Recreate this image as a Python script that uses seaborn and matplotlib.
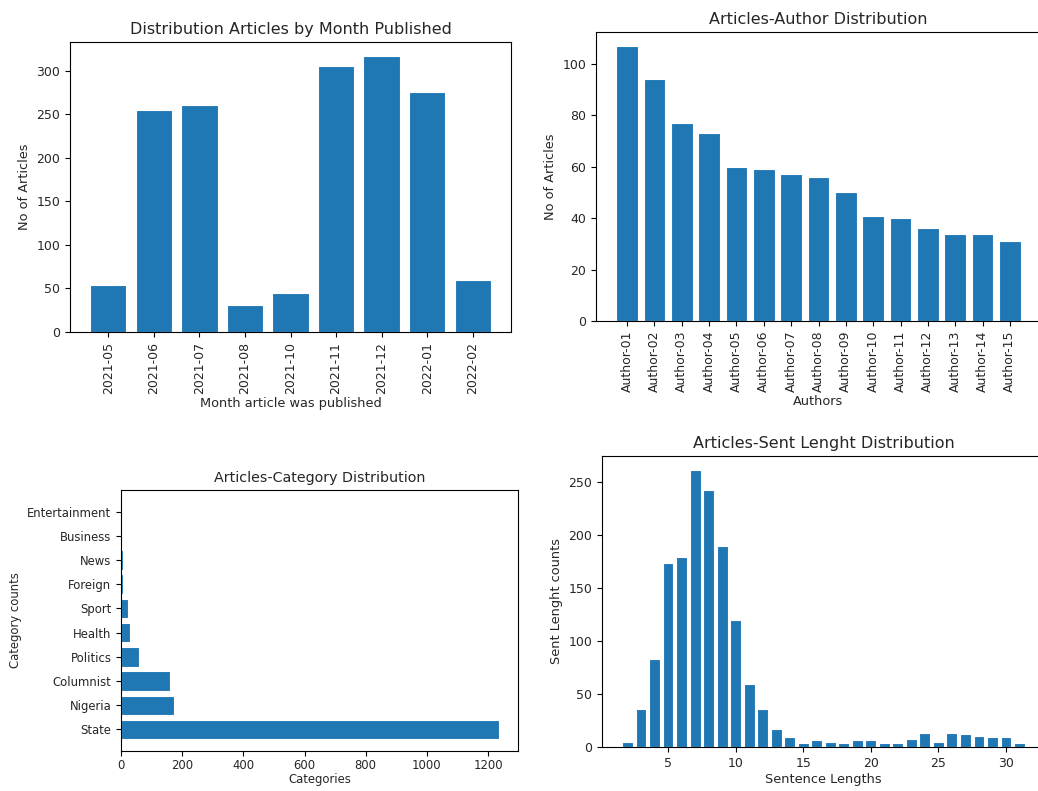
import matplotlib
matplotlib.use("Agg")
import matplotlib.pyplot as plt
import seaborn as sns
import pandas as pd

months = ["2021-05", "2021-06", "2021-07", "2021-08", "2021-10",
          "2021-11", "2021-12", "2022-01", "2022-02"]
month_counts = [54, 255, 261, 31, 45, 305, 317, 275, 60]

authors = [f"Author-{i:02d}" for i in range(1, 16)]
author_counts = [107, 94, 77, 73, 60, 59, 57, 56, 50, 41, 40, 36, 34, 34, 31]

categories = ["State", "Nigeria", "Columnist", "Politics", "Health",
              "Sport", "Foreign", "News", "Business", "Entertainment"]
category_counts = [1236, 173, 161, 60, 30, 22, 6, 6, 2, 1]

sent_lengths = list(range(2, 32))
sent_counts = [5, 36, 83, 173, 179, 261, 242, 189, 120, 59, 36, 17, 9, 4, 7,
               5, 4, 7, 7, 4, 4, 8, 13, 5, 13, 12, 10, 9, 9, 4]

W, H = 1038, 791
BLUE = "#1f77b4"
TXT = "#262626"
plt.rcParams["text.color"] = TXT
plt.rcParams["axes.labelcolor"] = TXT
plt.rcParams["xtick.labelcolor"] = TXT
plt.rcParams["ytick.labelcolor"] = TXT
fig = plt.figure(figsize=(W / 100, H / 100), dpi=100)


def px_axes(left, top, right, bottom):
    return fig.add_axes([left / W, (H - bottom) / H, (right - left) / W, (bottom - top) / H])


bar_kw = dict(color=BLUE, saturation=1, edgecolor="white", linewidth=0.8, errorbar=None)

# Top-left
ax1 = px_axes(70, 42, 511, 332)
sns.barplot(x=months, y=month_counts, ax=ax1, **bar_kw)
ax1.autoscale(axis="x")
ax1.set_title("Distribution Articles by Month Published", fontsize=11.5)
ax1.set_xlabel("Month article was published", fontsize=9.3, labelpad=2)
ax1.set_ylabel("No of Articles", fontsize=9.3)
ax1.tick_params(axis="x", labelrotation=90, labelsize=9)
ax1.tick_params(axis="y", labelsize=9)

# Top-right
ax2 = px_axes(596, 32, 1041, 321)
sns.barplot(x=authors, y=author_counts, ax=ax2, **bar_kw)
ax2.autoscale(axis="x")
ax2.set_title("Articles-Author Distribution", fontsize=11.5)
ax2.set_xlabel("Authors", fontsize=9.3, labelpad=2)
ax2.set_ylabel("No of Articles", fontsize=9.3)
ax2.tick_params(axis="x", labelrotation=90, labelsize=9)
ax2.tick_params(axis="y", labelsize=9)

# Bottom-left
ax3 = px_axes(121, 490, 518, 751)
sns.barplot(x=category_counts, y=categories, orient="h", ax=ax3, **bar_kw)
ax3.autoscale(axis="y")
if ax3.yaxis_inverted():
    ax3.invert_yaxis()
ax3.set_title("Articles-Category Distribution", fontsize=10.3)
ax3.set_xlabel("Categories", fontsize=8.4, labelpad=1)
ax3.set_ylabel("Category counts", fontsize=8.4)
ax3.tick_params(labelsize=8.4)
ax3.tick_params(axis="x", pad=2)

# Bottom-right
ax4 = px_axes(602, 456, 1045, 747)
sns.barplot(x=sent_lengths, y=sent_counts, native_scale=True, ax=ax4, **bar_kw)
ax4.autoscale(axis="x")
ax4.set_title("Articles-Sent Lenght Distribution", fontsize=11.5)
ax4.set_xlabel("Sentence Lengths", fontsize=9.3, labelpad=2)
ax4.set_ylabel("Sent Lenght counts", fontsize=9.3)
ax4.tick_params(labelsize=9)
ax4.set_xticks([5, 10, 15, 20, 25, 30])

fig.savefig("out.png", dpi=100)
